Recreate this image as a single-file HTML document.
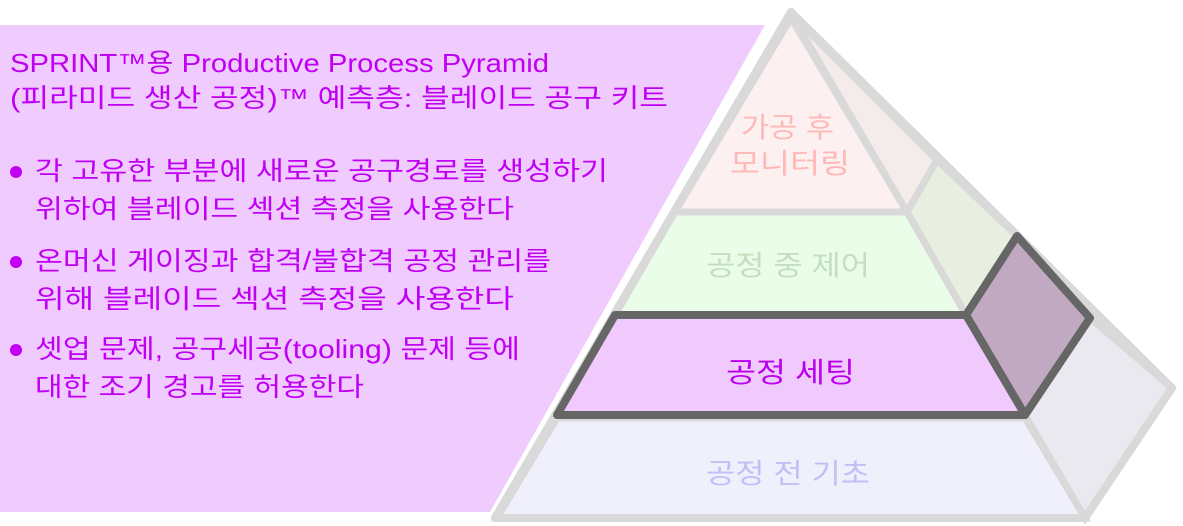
<!DOCTYPE html>
<html><head><meta charset="utf-8"><style>
html,body{margin:0;padding:0;background:#fff;}
svg{display:block;}
text{font-family:"Liberation Sans","Noto Sans CJK KR",sans-serif;}
</style></head><body>
<svg width="1183" height="526" viewBox="0 0 1183 526" xmlns="http://www.w3.org/2000/svg">
<polygon points="0,25 765,25 490,512 0,512" fill="#f0cbfd"/>
<g font-size="26" fill="#c000f4" lengthAdjust="spacingAndGlyphs">
<text x="10" y="72" textLength="539" lengthAdjust="spacingAndGlyphs">SPRINT™용 Productive Process Pyramid</text>
<text x="10" y="107" textLength="658" lengthAdjust="spacingAndGlyphs">(피라미드 생산 공정)™ 예측층: 블레이드 공구 키트</text>
<circle cx="16" cy="172" r="6"/>
<text x="35" y="180" textLength="573" lengthAdjust="spacingAndGlyphs">각 고유한 부분에 새로운 공구경로를 생성하기</text>
<text x="35" y="218" textLength="479" lengthAdjust="spacingAndGlyphs">위하여 블레이드 섹션 측정을 사용한다</text>
<circle cx="16" cy="262" r="6"/>
<text x="35" y="270" textLength="516" lengthAdjust="spacingAndGlyphs">온머신 게이징과 합격/불합격 공정 관리를</text>
<text x="35" y="308" textLength="479" lengthAdjust="spacingAndGlyphs">위해 블레이드 섹션 측정을 사용한다</text>
<circle cx="16" cy="350" r="6"/>
<text x="35" y="358" textLength="485" lengthAdjust="spacingAndGlyphs">셋업 문제, 공구세공(tooling) 문제 등에</text>
<text x="35" y="396" textLength="329" lengthAdjust="spacingAndGlyphs">대한 조기 경고를 허용한다</text>
</g>
<polygon points="791,12 1172,388 1085,518 495,518" fill="#fff" stroke="#d9d9d9" stroke-width="8" stroke-linejoin="round"/>
<polygon points="791,14 937,160 907,212" fill="#f4ebeb" stroke="#d9d9d9" stroke-width="7"/>
<polygon points="907,212 937,160 1017,236 966,315" fill="#e8efe0" stroke="#d9d9d9" stroke-width="7"/>
<polygon points="1025,415 1085,518 1172,388 1090,318" fill="#ebe9f0" stroke="#d9d9d9" stroke-width="7"/>
<polygon points="791,18 907,212 675,212" fill="#fdf0f0" stroke="#d9d9d9" stroke-width="7"/>
<polygon points="675,212 907,212 966,315 615,315" fill="#eafde9" stroke="#d9d9d9" stroke-width="7"/>
<polygon points="557,418 1025,418 1085,518 497,518" fill="#f0f0fd" stroke="#d9d9d9" stroke-width="7"/>
<polygon points="791,12 1172,388 1085,518 495,518" fill="none" stroke="#d9d9d9" stroke-width="8" stroke-linejoin="round"/>
<polygon points="966,315 1017,236 1090,318 1025,415" fill="#c2a9c2" stroke="#666" stroke-width="8" stroke-linejoin="round"/>
<polygon points="615,315 966,315 1025,415 557,415" fill="#f0cafd" stroke="#666" stroke-width="8" stroke-linejoin="round"/>
<g font-size="28">
<text x="741" y="137" textLength="93" lengthAdjust="spacingAndGlyphs" fill="#ffb8b8">가공 후</text>
<text x="730" y="173" textLength="120" lengthAdjust="spacingAndGlyphs" fill="#ffb8b8">모니터링</text>
<text x="706" y="275" textLength="164" lengthAdjust="spacingAndGlyphs" fill="#c3dfc0">공정 중 제어</text>
<text x="726" y="382" textLength="129" lengthAdjust="spacingAndGlyphs" fill="#bb00ee">공정 세팅</text>
<text x="706" y="483" textLength="164" lengthAdjust="spacingAndGlyphs" fill="#c0c0f6">공정 전 기초</text>
</g>
</svg>
</body></html>
